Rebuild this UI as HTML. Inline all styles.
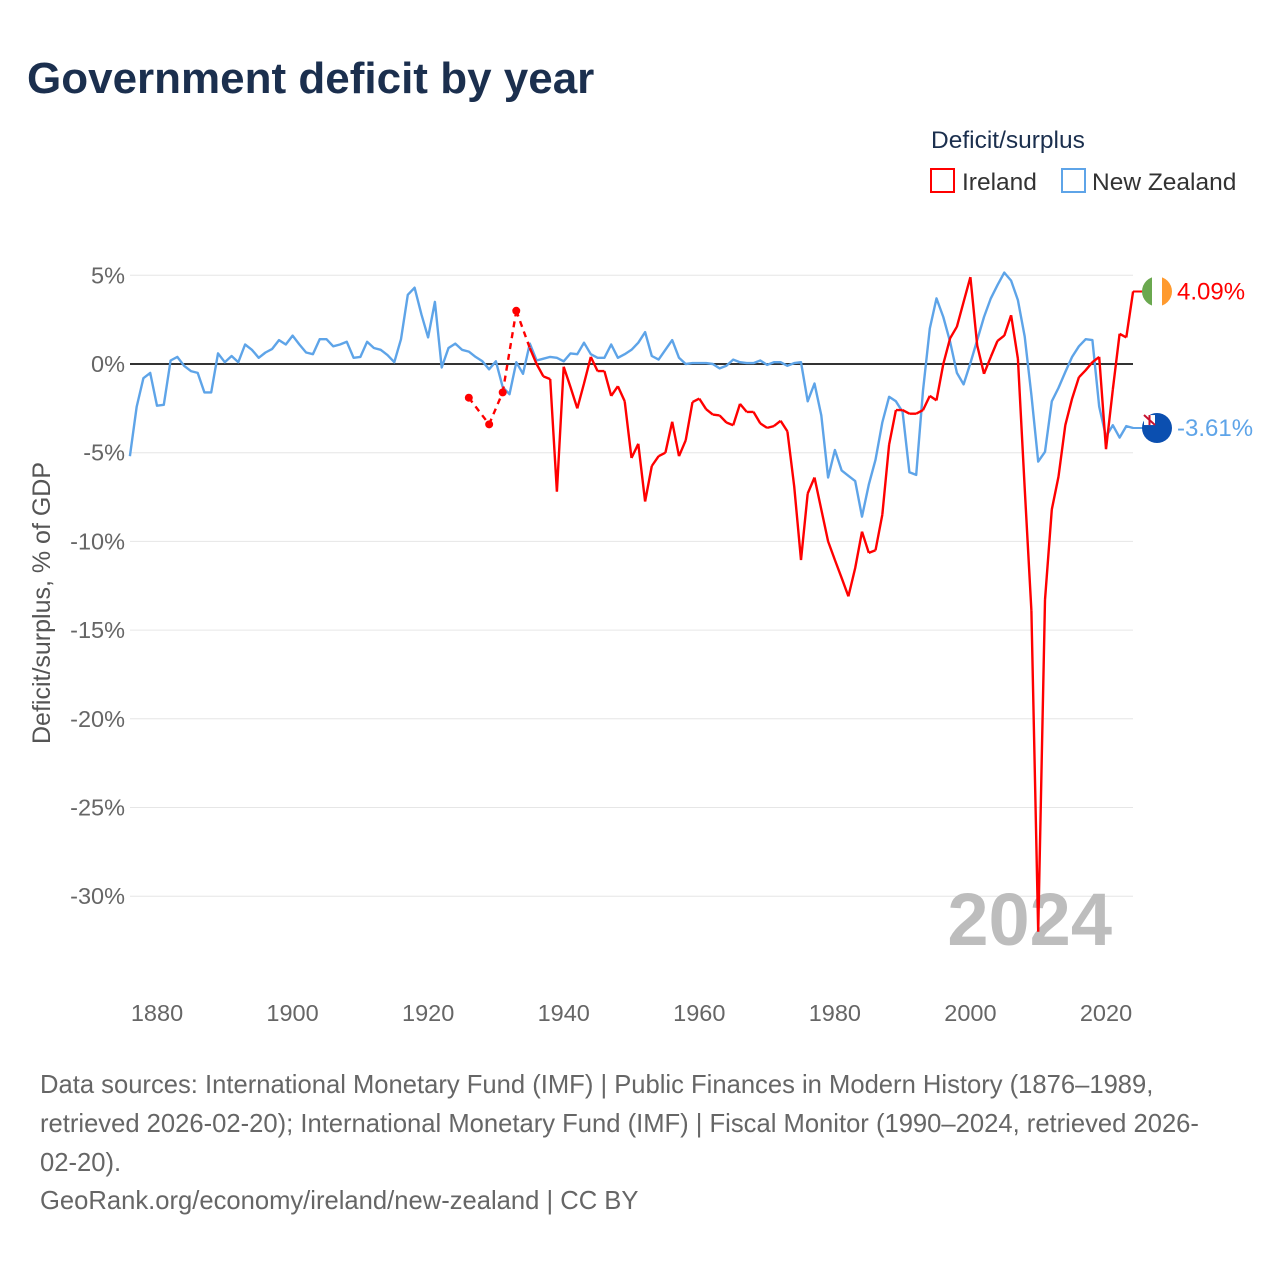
<!DOCTYPE html>
<html><head><meta charset="utf-8">
<style>
body{margin:0;background:#fff;width:1280px;height:1280px;overflow:hidden;font-family:"Liberation Sans",sans-serif;}
svg text{font-family:"Liberation Sans",sans-serif;}
</style></head>
<body>
<svg id="chart" width="1280" height="1280" viewBox="0 0 1280 1280" xmlns="http://www.w3.org/2000/svg">
<text x="27" y="93" font-size="44" font-weight="bold" fill="#1b2f4e">Government deficit by year</text>
<g>
<text x="931" y="148" font-size="24.5" fill="#1b2f4e">Deficit/surplus</text>
<rect x="931" y="169" width="23" height="23" fill="none" stroke="#ff0000" stroke-width="2"/>
<text x="962" y="190" font-size="24.5" fill="#333">Ireland</text>
<rect x="1062" y="169" width="23" height="23" fill="none" stroke="#5ea4e8" stroke-width="2"/>
<text x="1092" y="190" font-size="24.5" fill="#333">New Zealand</text>
</g>
<g id="grid"></g>
<g id="yticks"></g>
<g id="xticks"></g>
<text transform="translate(50,603) rotate(-90)" text-anchor="middle" font-size="25" fill="#555">Deficit/surplus, % of GDP</text>
<text x="1112" y="945" text-anchor="end" font-size="74" font-weight="bold" fill="#bdbdbd">2024</text>
<g id="series"></g>
<g font-size="25.6" fill="#666">
<text x="40" y="1093">Data sources: International Monetary Fund (IMF) | Public Finances in Modern History (1876–1989,</text>
<text x="40" y="1132">retrieved 2026-02-20); International Monetary Fund (IMF) | Fiscal Monitor (1990–2024, retrieved 2026-</text>
<text x="40" y="1171">02-20).</text>
<text x="40" y="1209">GeoRank.org/economy/ireland/new-zealand | CC BY</text>
</g>
</svg>
<script>
const startYear = 1876;
const yTicks = [5,0,-5,-10,-15,-20,-25,-30];
const xTicks = [1880,1900,1920,1940,1960,1980,2000,2020];
const nzValues = [-5.2,-2.4,-0.8,-0.5,-2.35,-2.3,0.2,0.4,-0.1,-0.4,-0.5,-1.6,-1.6,0.6,0.1,0.45,0.1,1.1,0.8,0.35,0.65,0.85,1.35,1.1,1.6,1.1,0.65,0.55,1.4,1.4,1.0,1.1,1.25,0.35,0.4,1.25,0.9,0.8,0.5,0.1,1.4,3.9,4.3,2.8,1.5,3.5,-0.2,0.9,1.15,0.8,0.7,0.4,0.15,-0.3,0.15,-1.3,-1.7,0.1,-0.55,1.15,0.2,0.3,0.4,0.35,0.15,0.6,0.55,1.2,0.55,0.35,0.35,1.1,0.35,0.55,0.8,1.2,1.8,0.45,0.25,0.8,1.35,0.35,0,0.05,0.05,0.05,0,-0.25,-0.1,0.25,0.1,0.05,0.05,0.2,-0.05,0.1,0.1,-0.1,0.05,0.1,-2.1,-1.1,-2.9,-6.4,-4.85,-6.0,-6.3,-6.6,-8.6,-6.8,-5.4,-3.3,-1.85,-2.1,-2.7,-6.1,-6.25,-1.5,2.0,3.7,2.65,1.25,-0.5,-1.15,0.05,1.35,2.65,3.7,4.45,5.15,4.7,3.6,1.55,-1.75,-5.5,-4.95,-2.1,-1.35,-0.45,0.4,1.0,1.4,1.35,-2.4,-4.1,-3.45,-4.15,-3.5,-3.61];
const ieYears = [1926,1929,1931,1933,1935,1936,1937,1938,1939,1940,1941,1942,1943,1944,1945,1946,1947,1948,1949,1950,1951,1952,1953,1954,1955,1956,1957,1958,1959,1960,1961,1962,1963,1964,1965,1966,1967,1968,1969,1970,1971,1972,1973,1974,1975,1976,1977,1978,1979,1980,1981,1982,1983,1984,1985,1986,1987,1988,1989,1990,1991,1992,1993,1994,1995,1996,1997,1998,1999,2000,2001,2002,2003,2004,2005,2006,2007,2008,2009,2010,2011,2012,2013,2014,2015,2016,2017,2018,2019,2020,2021,2022,2023,2024];
const ieValues = [-1.9,-3.4,-1.6,3.0,0.9,0.0,-0.7,-0.85,-7.2,-0.15,-1.3,-2.5,-1.1,0.4,-0.4,-0.4,-1.8,-1.25,-2.1,-5.3,-4.5,-7.75,-5.75,-5.2,-5.0,-3.25,-5.2,-4.3,-2.15,-1.95,-2.55,-2.85,-2.9,-3.3,-3.45,-2.25,-2.7,-2.7,-3.35,-3.6,-3.5,-3.2,-3.8,-6.9,-11.05,-7.3,-6.4,-8.2,-10.0,-11.05,-12.05,-13.1,-11.5,-9.45,-10.65,-10.5,-8.5,-4.55,-2.6,-2.6,-2.8,-2.8,-2.6,-1.8,-2.05,0,1.45,2.1,3.5,4.9,1.05,-0.55,0.4,1.3,1.6,2.75,0.3,-7.0,-13.9,-32.0,-13.3,-8.2,-6.35,-3.45,-1.95,-0.75,-0.35,0.1,0.4,-4.8,-1.45,1.7,1.5,4.09];

const NS="http://www.w3.org/2000/svg";
const X0=157, X1=1106, Y0=364, PER5=88.7, LEFT=130, RIGHT=1133;
function xs(y){return X0+(y-1880)*(X1-X0)/140;}
function ys(v){return Y0-v*PER5/5;}
function mk(tag,attrs,parent){const e=document.createElementNS(NS,tag);for(const k in attrs)e.setAttribute(k,attrs[k]);parent.appendChild(e);return e;}
const grid=document.getElementById('grid'), yt=document.getElementById('yticks'), xt=document.getElementById('xticks'), ser=document.getElementById('series');
yTicks.forEach(t=>{
  const l=mk('line',{x1:LEFT,x2:RIGHT,y1:ys(t),y2:ys(t),stroke:'#e6e6e6','stroke-width':1},grid);
  
  
  const tx=mk('text',{x:125,y:ys(t)+8,'text-anchor':'end','font-size':23.5,fill:'#666'},yt);
  tx.textContent=t+'%';
  
  
});
xTicks.forEach(t=>{
  const tx=mk('text',{x:xs(t),y:1021,'text-anchor':'middle','font-size':23.5,fill:'#666'},xt);
  tx.textContent=t;
  
  
});
const zl=mk('line',{x1:LEFT,x2:RIGHT,y1:ys(0),y2:ys(0),stroke:'#333','stroke-width':2},grid);



let d='';nzValues.forEach((v,i)=>{d+=(i?'L':'M')+xs(startYear+i).toFixed(1)+','+ys(v).toFixed(1);});
const nz=mk('path',{d:d,fill:'none',stroke:'#5ea4e8','stroke-width':2.4,'stroke-linejoin':'round'},ser);


let solid='',dash='';
for(let i=0;i<ieYears.length;i++){
  const p=xs(ieYears[i]).toFixed(1)+','+ys(ieValues[i]).toFixed(1);
  if(i>0){
    const q=xs(ieYears[i-1]).toFixed(1)+','+ys(ieValues[i-1]).toFixed(1);
    if(ieYears[i]-ieYears[i-1]===1) solid+='M'+q+'L'+p; else dash+='M'+q+'L'+p;
  }
}
const ied=mk('path',{d:dash,fill:'none',stroke:'#ff0000','stroke-width':2.4,'stroke-dasharray':'6,5'},ser);


const ies=mk('path',{d:solid,fill:'none',stroke:'#ff0000','stroke-width':2.4,'stroke-linejoin':'round'},ser);


for(let i=0;i<ieYears.length;i++){
  const prev=i>0&&ieYears[i]-ieYears[i-1]===1, next=i<ieYears.length-1&&ieYears[i+1]-ieYears[i]===1;
  if(!prev&&!next){
    const c=mk('circle',{cx:xs(ieYears[i]),cy:ys(ieValues[i]),r:4,fill:'#ff0000'},ser);
    
    
  }
}
const ieLast=ieValues[ieValues.length-1], nzLast=nzValues[nzValues.length-1];
const FX=1157;
mk('line',{x1:RIGHT,x2:FX,y1:ys(ieLast),y2:ys(ieLast),stroke:'#ff0000','stroke-width':2},ser);
mk('line',{x1:RIGHT,x2:FX,y1:ys(nzLast),y2:ys(nzLast),stroke:'#5ea4e8','stroke-width':2},ser);
const fi=mk('g',{},ser);


const cy1=ys(ieLast);
const cp=mk('clipPath',{id:'c1'},fi);
mk('circle',{cx:FX,cy:cy1,r:15},cp);
mk('rect',{x:FX-15,y:cy1-15,width:10,height:30,fill:'#6aa84f','clip-path':'url(#c1)'},fi);
mk('rect',{x:FX-5,y:cy1-15,width:10,height:30,fill:'#fff','clip-path':'url(#c1)'},fi);
mk('rect',{x:FX+5,y:cy1-15,width:10,height:30,fill:'#ff9a2e','clip-path':'url(#c1)'},fi);
const t1=mk('text',{x:1177,y:cy1+8,'font-size':24,fill:'#ff0000'},ser);
t1.textContent=ieLast.toFixed(2)+'%';


const cy2=ys(nzLast);
const fn=mk('g',{},ser);


mk('circle',{cx:FX,cy:cy2,r:15,fill:'#0b4fb0'},fn);
mk('rect',{x:FX-13,y:cy2-13,width:11,height:10,fill:'#fff'},fn);
mk('line',{x1:FX-13,y1:cy2-13,x2:FX-2,y2:cy2-3,stroke:'#c8102e','stroke-width':2},fn);
mk('line',{x1:FX-7.5,y1:cy2-13,x2:FX-7.5,y2:cy2-3,stroke:'#c8102e','stroke-width':2},fn);
const t2=mk('text',{x:1177,y:cy2+8,'font-size':24,fill:'#5ea4e8'},ser);
t2.textContent=nzLast.toFixed(2)+'%';


</script>
</body></html>
